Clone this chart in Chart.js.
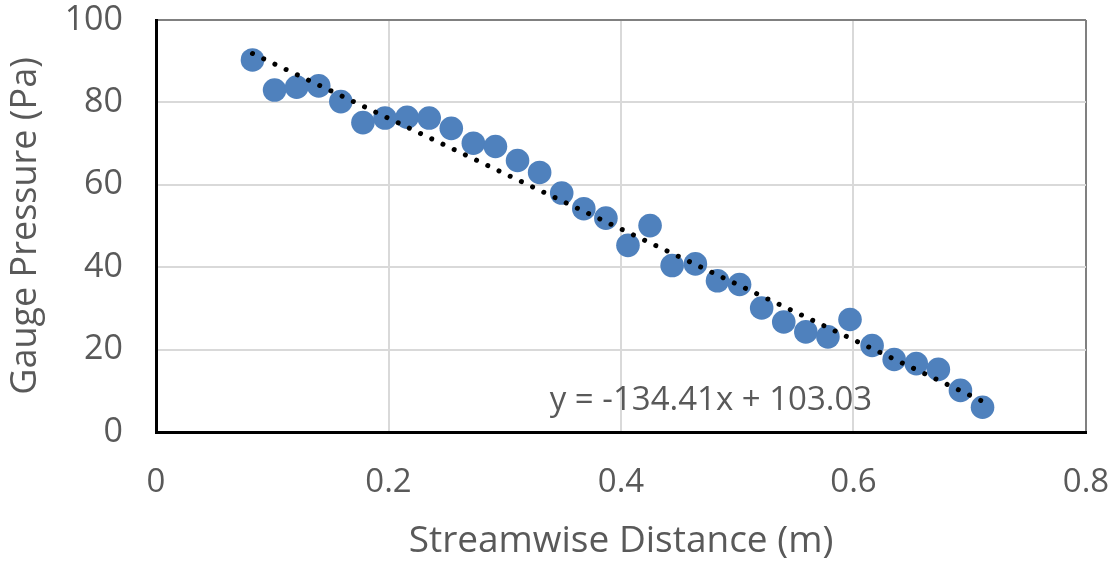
<!DOCTYPE html>
<html>
<head>
<meta charset="utf-8">
<script src="https://cdn.jsdelivr.net/npm/chart.js@4/dist/chart.umd.min.js"></script>
<style>
  html, body { margin: 0; padding: 0; background: #fff; }
  #wrap { width: 1116px; height: 564px; }
</style>
</head>
<body>
<div id="wrap"><canvas id="chart" width="1116" height="564"></canvas></div>
<script>
const distance = [
  0.083, 0.102, 0.121, 0.140, 0.159, 0.178, 0.197, 0.216, 0.235, 0.254,
  0.273, 0.292, 0.311, 0.330, 0.349, 0.368, 0.387, 0.406, 0.425, 0.444,
  0.464, 0.483, 0.502, 0.521, 0.540, 0.559, 0.578, 0.597, 0.616, 0.635,
  0.654, 0.673, 0.692, 0.711
];
const pressure = [
  90.3, 83.0, 83.7, 84.0, 80.2, 75.1, 76.2, 76.4, 76.2, 73.7,
  70.1, 69.3, 65.9, 63.0, 58.0, 54.2, 51.9, 45.3, 50.1, 40.4,
  40.8, 36.7, 35.8, 30.1, 26.7, 24.3, 23.1, 27.3, 21.0, 17.6,
  16.6, 15.2, 10.1, 6.0
];

// linear trendline as shown on the chart
const slope = -134.41;
const intercept = 103.03;
const trendLabel = 'y = -134.41x + 103.03';

const xTicks = [0, 0.2, 0.4, 0.6, 0.8];
const yTicks = [0, 20, 40, 60, 80, 100];

const FONT = '"Open Sans", sans-serif';
const GREY = '#595959';

const points = distance.map((x, i) => ({ x, y: pressure[i] }));
const xFirst = distance[0];
const xLast = distance[distance.length - 1];
const trend = [xFirst, xLast].map(x => ({ x, y: slope * x + intercept }));

// draws the trendline equation inside the plot
const trendText = {
  id: 'trendText',
  afterDatasetsDraw(chart) {
    const { ctx, scales } = chart;
    ctx.save();
    ctx.font = '33px ' + FONT;
    ctx.fillStyle = GREY;
    ctx.textAlign = 'center';
    ctx.textBaseline = 'middle';
    ctx.fillText(trendLabel, scales.x.getPixelForValue(0.4774), scales.y.getPixelForValue(7.6));
    ctx.restore();
  }
};

new Chart(document.getElementById('chart'), {
  type: 'scatter',
  data: {
    datasets: [
      {
        label: 'Pressure',
        data: points,
        backgroundColor: '#4F81BD',
        borderWidth: 0,
        pointRadius: 11.8,
        pointHoverRadius: 11.8,
        order: 2
      },
      {
        type: 'line',
        label: 'Trend',
        data: trend,
        borderColor: '#000',
        borderWidth: 5,
        borderDash: [0.01, 12.4],
        borderCapStyle: 'round',
        pointRadius: 0,
        fill: false,
        order: 1
      }
    ]
  },
  options: {
    responsive: false,
    animation: false,
    layout: { padding: { left: 0, top: 20, right: 30, bottom: 0 } },
    plugins: { legend: { display: false }, tooltip: { enabled: false } },
    scales: {
      x: {
        type: 'linear',
        min: 0,
        max: 0.8,
        afterBuildTicks: s => { s.ticks = xTicks.map(v => ({ value: v })); },
        afterFit: s => { s.height = 132; s.paddingRight = 0; s.paddingLeft = 0; },
        ticks: {
          color: GREY,
          font: { family: FONT, size: 33 },
          padding: 31,
          maxRotation: 0,
          callback: v => String(v)
        },
        grid: {
          color: c => c.tick && c.tick.value === 0.8 ? '#808080' : '#D9D9D9',
          lineWidth: 2,
          drawTicks: false
        },
        border: { color: '#000', width: 3 },
        title: {
          display: true,
          text: 'Streamwise Distance (m)',
          color: GREY,
          font: { family: FONT, size: 37 },
          padding: { top: 0, bottom: 0 }
        }
      },
      y: {
        type: 'linear',
        min: 0,
        max: 100,
        afterBuildTicks: s => { s.ticks = yTicks.map(v => ({ value: v })); },
        afterFit: s => { s.width = 156; s.paddingTop = 0; s.paddingBottom = 0; },
        ticks: {
          color: GREY,
          font: { family: FONT, size: 34 },
          padding: 33
        },
        grid: {
          color: c => c.tick && c.tick.value === 100 ? '#808080' : '#D9D9D9',
          lineWidth: 2,
          drawTicks: false
        },
        border: { color: '#000', width: 3 },
        title: {
          display: true,
          text: 'Gauge Pressure (Pa)',
          color: GREY,
          font: { family: FONT, size: 36 },
          padding: { top: 4, bottom: 0 }
        }
      }
    }
  },
  plugins: [trendText]
});
</script>
</body>
</html>
